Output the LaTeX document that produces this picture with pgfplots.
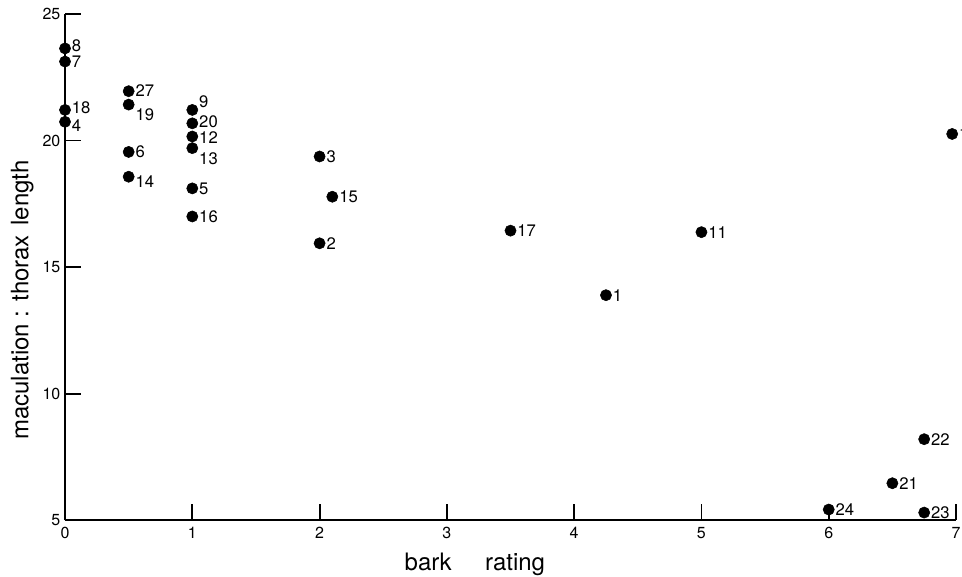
\documentclass[border=0pt]{standalone}
\usepackage{pgfplots}
\pgfplotsset{compat=1.18}
\usepackage{fontspec}
\setmainfont{TeX Gyre Heros}
\pgfplotstableread{
x y lab dy
0 23.64 8 2
0 23.12 7 0
0 21.21 18 2
0 20.74 4 -2.5
0.5 21.95 27 0.5
0.5 21.42 19 -7.5
0.5 19.55 6 0
0.5 18.57 14 -4
1 21.21 9 6
1 20.68 20 1
1 20.16 12 -0.5
1 19.70 13 -8
1 18.11 5 0
1 17.00 16 0
2 19.37 3 0
2.1 17.78 15 0
2 15.94 2 0
3.5 16.44 17 0
5 16.38 11 0
4.25 13.89 1 0
6.97 20.26 10 0
6.75 8.20 22 0
6.5 6.46 21 0
6 5.42 24 0
6.75 5.30 23 0
}\pts
\begin{document}
\begin{tikzpicture}
\begin{axis}[
  name=ax,
  scale only axis,
  width=668pt, height=379.5pt,
  xmin=0, xmax=7, ymin=5, ymax=25,
  axis lines*=left,
  axis line style={line width=1.6pt, black},
  tick align=inside,
  major tick length=12pt,
  tick style={line width=1.4pt, black},
  xtick={0,1,2,3,4,5,6,7}, ytick={5,10,15,20,25},
  /pgf/number format/assume math mode=true,
  ticklabel style={font=\fontsize{12}{14}\selectfont},
  xticklabel style={yshift=-2pt},
  xlabel={bark\hspace{1.4em}rating},
  ylabel={maculation : thorax\hspace{0.4em}length},
  label style={font=\fontsize{18}{21}\selectfont},
  xlabel style={at={(axis description cs:0.46,-0.087)}, anchor=center},
  ylabel style={at={(axis description cs:-0.048,0.435)}, anchor=center},
  clip=false,
]
\addplot[only marks, mark=*, mark size=4.2pt, black,
  point meta=explicit symbolic,
  nodes near coords,
  visualization depends on={\thisrow{dy}\as\dy},
  every node near coord/.append style={anchor=west, inner sep=0pt, xshift=5pt, yshift=\dy pt, font=\fontsize{12.5}{14}\selectfont, text=black},
] table[x=x, y=y, meta=lab] {\pts};
\draw[line width=1.4pt] (axis cs:1,5) -- ([yshift=12pt]axis cs:1,5);
\draw[line width=1.4pt] (axis cs:2,5) -- ([yshift=12pt]axis cs:2,5);
\end{axis}
\pgfresetboundingbox
\path[use as bounding box] ([xshift=-48.75pt,yshift=-42pt]ax.south west) rectangle ([xshift=4.5pt,yshift=10.5pt]ax.north east);
\end{tikzpicture}
\end{document}
